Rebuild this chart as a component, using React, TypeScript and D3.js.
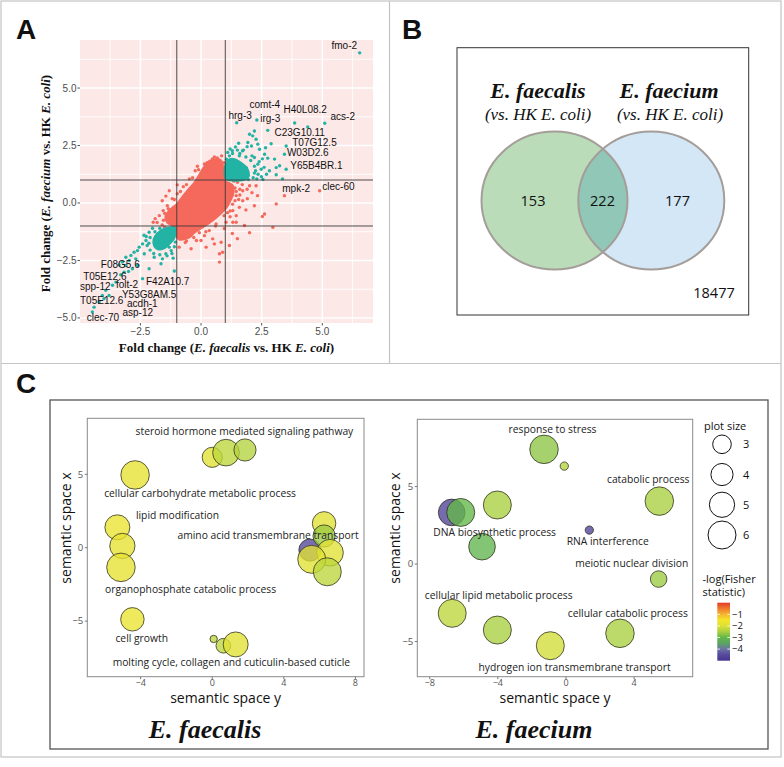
import * as d3 from "d3";

// ---------- Panel A: fold change scatter ----------
// solid, fully over-plotted core of the non-shared genes (outline in fold-change units)
const redCore: [number, number][] = [
  [0.34, 1.83], [0.8, 1.88], [0.92, 1.53], [1.0, 0.97], [1.29, 0.79], [1.33, 0.4],
  [1.21, 0.1], [1.05, -0.2], [0.76, -0.51], [0.47, -0.77], [0.05, -1.07], [-0.28, -1.29],
  [-0.48, -1.5], [-0.9, -1.59], [-1.02, -1.42], [-1.06, -1.07], [-1.39, -0.85], [-1.47, -0.59],
  [-1.23, -0.25], [-1.02, -0.07], [-0.77, 0.27], [-0.57, 0.53], [-0.28, 0.88], [-0.07, 1.23], [0.1, 1.53],
];
const tealCoreUp: [number, number][] = [
  [1.02, 1.04], [1.02, 1.72], [1.18, 1.92], [1.42, 1.9], [1.7, 1.72], [1.92, 1.5], [1.98, 1.22], [1.88, 1.04],
];
const tealCoreDown: [number, number][] = [
  [-1.08, -1.06], [-1.08, -1.5], [-1.25, -1.74], [-1.52, -1.98], [-1.78, -2.02], [-1.94, -1.88],
  [-1.97, -1.6], [-1.82, -1.33], [-1.56, -1.13], [-1.31, -1.06],
];
const redPoints: [number, number][] = [
  [0.14, 1.7], [0.47, 1.92], [0.67, 1.96], [-0.24, 1.4], [-0.48, 1.05], [-0.73, 0.71], [-0.98, 0.4],
  [-1.19, 0.19], [-1.39, -0.12], [-1.56, -0.33], [-1.72, -0.55], [-1.81, -0.85], [-1.97, -0.84],
  [-1.6, 0.1], [-1.31, 0.53], [-0.98, 0.79], [-1.89, -0.68], [-1.3, -0.45], [-1.45, 0.3],
  [-0.9, -1.92], [-0.65, -1.72], [-0.41, -1.99], [-0.19, -1.63], [0.21, -1.92], [0.48, -1.56],
  [0.34, -1.2], [0.55, -1.78], [0.83, -1.71], [0.76, -2.21], [0.76, -2.57], [0.89, -2.14],
  [1.17, -1.85], [1.29, -1.33], [1.45, -0.84], [1.31, -0.84], [1.03, -0.84], [0.62, -0.91],
  [1.58, -0.19], [1.31, -0.33], [1.45, -0.55], [1.72, 0.1], [2.0, 0.75], [2.27, 0.75], [1.72, 0.53],
  [1.45, 0.32], [1.91, 0.19], [2.2, -0.12], [2.62, -0.48], [2.53, -0.59], [2.96, -1.06], [3.1, -0.04],
  [3.44, 0.32], [4.89, 0.53], [1.79, -0.98], [2.0, -1.29], [1.5, -1.55], [0.96, -1.11], [0.14, -1.42],
  [-0.07, -1.29], [0.0, -1.63], [1.09, -0.42], [2.33, 0.32], [1.5, 0.9], [1.7, 0.8], [1.9, 0.6],
  [1.6, 0.6], [1.4, 0.65], [2.1, 0.45], [1.55, 0.15], [1.85, -0.3], [1.2, -0.6],
  [-1.55, -0.75], [-1.6, -0.95], [-1.5, -1.05], [-1.2, -1.2], [-0.6, -1.65], [-0.3, -1.5], [0.2, -1.25],
  [0.6, -1.0], [0.95, -0.55], [1.2, -0.35], [1.4, 0.1], [1.45, 0.5], [1.1, 1.1], [1.0, 1.5], [0.95, 1.75],
  [0.25, 1.75], [-0.1, 1.45], [-0.35, 1.1], [-0.6, 0.8], [-0.85, 0.5], [-1.1, 0.15], [-1.35, -0.25],
  [-1.5, -0.45], [0.55, 2.0], [0.85, 2.05], [-0.15, 1.6], [1.35, 0.95], [1.6, 0.35], [1.3, -0.05],
];
const tealPoints: [number, number][] = [
  [6.54, 6.53], [1.47, 3.49], [2.3, 3.61], [2.75, 3.16], [3.86, 3.48], [4.4, 3.31], [5.1, 3.47],
  [3.51, 2.48], [3.44, 2.12], [3.51, 1.47], [3.1, 1.23], [2.89, 2.58], [2.41, 2.34], [2.62, 2.12],
  [2.75, 1.95], [3.03, 1.91], [3.1, 1.54], [2.2, 3.13], [2.13, 2.92], [2.0, 2.99], [2.27, 2.77],
  [1.93, 2.63], [2.34, 2.56], [2.2, 1.98], [2.34, 1.69], [2.48, 1.47], [1.86, 1.54], [1.71, 2.27],
  [1.58, 2.05], [2.53, 1.92], [2.66, 2.4], [2.08, 2.48], [2.82, 1.4], [3.24, 1.62], [3.36, 1.05],
  [2.49, 1.14], [1.29, 2.27], [1.42, 2.44], [1.17, 2.05], [2.2, 1.3], [2.3, 1.05], [1.95, 1.2],
  [1.1, 2.2], [1.3, 2.15], [1.6, 2.15], [1.85, 2.0], [2.05, 1.85], [2.2, 1.6], [2.25, 1.4], [2.15, 1.1],
  [1.05, 1.9], [1.02, 1.6], [1.02, 1.3], [1.2, 2.35], [1.5, 2.3], [1.75, 2.3], [2.4, 1.8], [2.6, 1.55],
  [2.1, 2.05], [1.9, 2.45], [1.55, 2.6], [2.7, 1.25], [2.55, 1.02], [2.35, 1.25], [1.95, 1.02], [1.7, 1.05],
  [-2.14, -1.27], [-2.27, -1.63], [-2.41, -1.78], [-2.55, -1.92], [-2.62, -2.07], [-2.76, -2.14],
  [-2.34, -2.21], [-2.89, -2.28], [-3.1, -2.36], [-2.96, -2.5], [-2.69, -2.43], [-3.24, -2.57],
  [-3.38, -2.69], [-3.1, -2.72], [-2.62, -2.72], [-2.14, -2.86], [-1.65, -2.64], [-1.93, -2.36],
  [-1.59, -2.43], [-2.83, -2.86], [-2.99, -2.98], [-3.17, -3.01], [-3.31, -3.12], [-2.41, -3.29],
  [-3.51, -3.44], [-3.65, -3.58], [-3.93, -3.8], [-3.79, -4.02], [-4.07, -4.02], [-4.2, -4.31],
  [-4.0, -4.16], [-4.41, -4.53], [-4.48, -4.74], [-1.1, -2.96], [-1.45, -2.21], [-1.31, -1.92],
  [-2.22, -1.85], [-1.72, -1.72], [-1.48, -1.63], [-1.23, -2.07], [-2.26, -1.46],
  [-1.1, -1.9], [-1.2, -2.2], [-1.4, -2.3], [-1.7, -2.25], [-1.95, -2.2], [-2.1, -2.05], [-2.15, -1.75],
  [-2.1, -1.5], [-1.9, -1.25], [-1.7, -1.1], [-1.06, -1.7], [-1.15, -2.4], [-2.0, -1.1], [-2.35, -1.4],
];
const geneNames = [
  "fmo-2", "comt-4", "H40L08.2", "acs-2", "hrg-3", "irg-3", "C23G10.11", "T07G12.5", "W03D2.6",
  "Y65B4BR.1", "mpk-2", "clec-60", "F08G5.6", "T05E12.6", "F42A10.7", "spp-12", "folt-2",
  "Y53G8AM.5", "T05E12.6", "acdh-1", "clec-70", "asp-12",
];
// repelled label anchor (fold-change units)
const geneLabelAt: [number, number][] = [
  [5.38, 6.7], [2.0, 4.12], [3.4, 3.9], [5.34, 3.61], [1.13, 3.64], [2.44, 3.54], [3.03, 2.92],
  [3.76, 2.48], [3.54, 2.05], [3.68, 1.47], [3.35, 0.46], [5.0, 0.56], [-4.13, -2.83], [-4.86, -3.34],
  [-2.27, -3.55], [-4.99, -3.77], [-3.51, -3.68], [-3.26, -4.12], [-4.99, -4.41], [-3.05, -4.52],
  [-4.71, -5.13], [-3.24, -4.93],
];
const aMajor = [-5, -2.5, 0, 2.5, 5];
const aMinor = [-3.75, -1.25, 1.25, 3.75, 6.25];

// ---------- Panel B: Venn ----------
const vennSets = ["E. faecalis", "E. faecium"];
const vennCounts = [153, 222, 177];
const vennOutside = 18477;

// ---------- Panel C: REVIGO semantic space ----------
type Term = { sy: number; sx: number; size: number; logp: number };
const faecalisTerms: Term[] = [
  { sy: 0.0, sx: 6.16, size: 3.4, logp: -1.9 },
  { sy: 0.77, sx: 6.48, size: 5.5, logp: -2.3 },
  { sy: 1.83, sx: 6.66, size: 4.0, logp: -2.4 },
  { sy: -4.31, sx: 4.96, size: 6.2, logp: -1.8 },
  { sy: -5.3, sx: 1.39, size: 4.9, logp: -1.7 },
  { sy: -5.02, sx: 0.12, size: 5.0, logp: -1.8 },
  { sy: -5.1, sx: -1.34, size: 6.2, logp: -1.8 },
  { sy: -4.46, sx: -4.88, size: 4.4, logp: -1.7 },
  { sy: 0.08, sx: -6.22, size: 1.0, logp: -2.3 },
  { sy: 0.62, sx: -6.68, size: 2.1, logp: -2.3 },
  { sy: 1.31, sx: -6.59, size: 4.9, logp: -1.9 },
  { sy: 6.25, sx: 1.66, size: 4.4, logp: -1.9 },
  { sy: 5.46, sx: -0.16, size: 4.0, logp: -4.6 },
  { sy: 6.25, sx: 0.8, size: 4.0, logp: -2.6 },
  { sy: 6.58, sx: -0.34, size: 5.5, logp: -1.9 },
  { sy: 5.56, sx: -0.79, size: 6.0, logp: -1.9 },
  { sy: 6.43, sx: -1.64, size: 6.0, logp: -2.3 },
];
const faecalisLabels = [
  "steroid hormone mediated signaling pathway", "cellular carbohydrate metabolic process",
  "lipid modification", "amino acid transmembrane transport", "organophosphate catabolic process",
  "cell growth", "molting cycle, collagen and cuticulin-based cuticle",
];
const faecalisLabelAt: [number, number][] = [
  [1.8, 7.68], [-0.68, 3.44], [-1.94, 1.96], [3.12, 0.59], [-1.21, -3.07], [-3.94, -6.41], [1.07, -8.06],
];
const faeciumTerms: Term[] = [
  { sy: -1.29, sx: 7.4, size: 6.2, logp: -2.7 },
  { sy: -0.1, sx: 6.32, size: 1.1, logp: -2.4 },
  { sy: 5.48, sx: 4.06, size: 6.2, logp: -2.5 },
  { sy: -4.03, sx: 3.81, size: 6.0, logp: -2.5 },
  { sy: -6.71, sx: 3.33, size: 5.5, logp: -4.7 },
  { sy: -6.18, sx: 3.33, size: 6.0, logp: -3.0 },
  { sy: -4.93, sx: 1.12, size: 5.5, logp: -3.1 },
  { sy: 1.37, sx: 2.19, size: 1.1, logp: -4.7 },
  { sy: 5.44, sx: -0.97, size: 2.5, logp: -2.6 },
  { sy: -6.68, sx: -3.18, size: 6.0, logp: -2.3 },
  { sy: -4.03, sx: -4.26, size: 6.0, logp: -2.5 },
  { sy: -0.92, sx: -5.27, size: 6.0, logp: -2.1 },
  { sy: 3.17, sx: -4.47, size: 6.2, logp: -2.5 },
];
const faeciumLabels = [
  "response to stress", "catabolic process", "DNA biosynthetic process", "RNA interference",
  "meiotic nuclear division", "cellular lipid metabolic process", "cellular catabolic process",
  "hydrogen ion transmembrane transport",
];
const faeciumLabelAt: [number, number][] = [
  [-0.79, 8.43], [4.83, 5.25], [-4.19, 1.81], [2.45, 1.23], [3.86, -0.21], [-3.95, -2.26],
  [3.63, -3.4], [0.5, -6.88],
];
const sizeLegend = [3, 4, 5, 6];
const fisherTicks = [-1, -2, -3, -4];

const RED = "#F4695B";
const TEAL = "#22B3A5";
const SANS = "'Open Sans', sans-serif";
const SERIF = "'Liberation Serif', 'Times New Roman', serif";
const ARIAL = "'Liberation Sans', Arial, sans-serif";

const colorScale = d3
  .scaleLinear<string>()
  .domain([0, -0.5, -1, -1.5, -2, -2.5, -3, -3.5, -4, -4.5, -5])
  .range(["#E4392A", "#EF7A2D", "#F5B52E", "#F4E62C", "#DCE035", "#A9CF40", "#63B749", "#5AA463", "#6D72A4", "#56499C", "#473491"]);
const areaScale = d3.scaleLinear().domain([3, 6]).range([86.5, 196]);
const rOf = (v: number) => Math.sqrt(areaScale(v));

function PanelA() {
  const x = d3.scaleLinear().domain([-4.99, 7.09]).range([80, 373]);
  const y = d3.scaleLinear().domain([-5.22, 7.09]).range([323, 40]);
  const area = d3
    .line<[number, number]>()
    .x((d) => x(d[0]))
    .y((d) => y(d[1]))
    .curve(d3.curveCatmullRomClosed);
  const [x0, x1] = x.range();
  const [y0, y1] = y.range();
  return (
    <g>
      <rect x={x0} y={y1} width={x1 - x0} height={y0 - y1} fill="#FCE8E7" />
      {aMinor.map((v) => (
        <g key={"mn" + v} stroke="#fff" strokeWidth={0.9}>
          <line x1={x(v)} x2={x(v)} y1={y1} y2={y0} />
          <line x1={x0} x2={x1} y1={y(v)} y2={y(v)} />
        </g>
      ))}
      {aMajor.map((v) => (
        <g key={"mj" + v} stroke="#fff" strokeWidth={1.6}>
          {v > -5 && <line x1={x(v)} x2={x(v)} y1={y1} y2={y0} />}
          <line x1={x0} x2={x1} y1={y(v)} y2={y(v)} />
        </g>
      ))}
      <path d={area(redCore)!} fill={RED} stroke={RED} strokeWidth={2} />
      {redPoints.map((d, i) => (
        <circle key={"r" + i} cx={x(d[0])} cy={y(d[1])} r={1.7} fill={RED} />
      ))}
      <path d={area(tealCoreUp)!} fill={TEAL} stroke={TEAL} strokeWidth={1.5} />
      <path d={area(tealCoreDown)!} fill={TEAL} stroke={TEAL} strokeWidth={1.5} />
      {tealPoints.map((d, i) => (
        <circle key={"t" + i} cx={x(d[0])} cy={y(d[1])} r={1.7} fill={TEAL} />
      ))}
      <g stroke="#3a3a3a" strokeWidth={0.9}>
        {[-1, 1].map((v) => (
          <line key={"v" + v} x1={x(v)} x2={x(v)} y1={y1} y2={y0} />
        ))}
        {[-1, 1].map((v) => (
          <line key={"h" + v} x1={x0} x2={x1} y1={y(v)} y2={y(v)} />
        ))}
      </g>
      {geneNames.map((g, i) => (
        <text key={"g" + i} x={x(geneLabelAt[i][0])} y={y(geneLabelAt[i][1])} fontFamily={ARIAL} fontSize={10} fill="#111">
          {g}
        </text>
      ))}
      {[-2.5, 0, 2.5, 5].map((v) => (
        <g key={"xt" + v}>
          <line x1={x(v)} x2={x(v)} y1={y0} y2={y0 + 2.5} stroke="#555" />
          <text x={x(v)} y={335} textAnchor="middle" fontFamily={ARIAL} fontSize={10} fill="#4d4d4d">
            {d3.format(".1f")(v).replace("-", "−")}
          </text>
        </g>
      ))}
      {aMajor.map((v) => (
        <g key={"yt" + v}>
          <line x1={x0 - 2.5} x2={x0} y1={y(v)} y2={y(v)} stroke="#555" />
          <text x={x0 - 3.5} y={y(v) + 3.5} textAnchor="end" fontFamily={ARIAL} fontSize={10} fill="#4d4d4d">
            {d3.format(".1f")(v).replace("-", "−")}
          </text>
        </g>
      ))}
      <text x={(x0 + x1) / 2} y={352} textAnchor="middle" fontFamily={SERIF} fontWeight="bold" fontSize={13} fill="#111">
        Fold change (<tspan fontStyle="italic">E. faecalis</tspan> vs. HK <tspan fontStyle="italic">E. coli</tspan>)
      </text>
      <text transform={`translate(50,${(y0 + y1) / 2 + 2}) rotate(-90)`} textAnchor="middle" fontFamily={SERIF} fontWeight="bold" fontSize={13} fill="#111">
        Fold change (<tspan fontStyle="italic">E. faecium</tspan> vs. HK <tspan fontStyle="italic">E. coli</tspan>)
      </text>
    </g>
  );
}

function PanelB() {
  const cx = d3.scaleOrdinal<string, number>().domain(vennSets).range([554.5, 651.3]);
  const cy = 200.5;
  const rx = 73;
  const ry = 69;
  return (
    <g>
      <rect x={457} y={47.7} width={291.7} height={267.3} fill="#fff" stroke="#333" strokeWidth={1} />
      <defs>
        <clipPath id="vennLeft">
          <ellipse cx={cx(vennSets[0])} cy={cy} rx={rx} ry={ry} />
        </clipPath>
      </defs>
      <ellipse cx={cx(vennSets[0])} cy={cy} rx={rx} ry={ry} fill="#BADCB8" />
      <ellipse cx={cx(vennSets[1])} cy={cy} rx={rx} ry={ry} fill="#D3E7F7" />
      <ellipse cx={cx(vennSets[1])} cy={cy} rx={rx} ry={ry} fill="#90C7B6" clipPath="url(#vennLeft)" />
      {vennSets.map((s) => (
        <ellipse key={s} cx={cx(s)} cy={cy} rx={rx} ry={ry} fill="none" stroke="#A49D99" strokeWidth={2} />
      ))}
      {vennSets.map((s, i) => (
        <g key={"t" + s}>
          <text x={[538, 669][i]} y={98} textAnchor="middle" fontFamily={SERIF} fontWeight="bold" fontStyle="italic" fontSize={22} fill="#111">
            {s}
          </text>
          <text x={[538, 670][i]} y={120} textAnchor="middle" fontFamily={SERIF} fontStyle="italic" fontSize={17} fill="#111">
            (vs. HK E. coli)
          </text>
        </g>
      ))}
      {vennCounts.map((c, i) => (
        <text key={"c" + i} x={[533, 602.5, 677.5][i]} y={cy + 5} textAnchor="middle" fontFamily={SANS} fontSize={14.5} fill="#111">
          {c}
        </text>
      ))}
      <text x={714} y={298} textAnchor="middle" fontFamily={SANS} fontSize={14.5} fill="#111">
        {vennOutside}
      </text>
    </g>
  );
}

function Bubbles({
  terms, labels, labelAt, xDom, xRange, yDom, yRange, xTicks, yTitleX, species, speciesX,
}: {
  terms: Term[]; labels: string[]; labelAt: [number, number][]; xDom: number[]; xRange: number[];
  yDom: number[]; yRange: number[]; xTicks: number[]; yTitleX: number; species: string; speciesX: number;
}) {
  const x = d3.scaleLinear().domain(xDom).range(xRange);
  const y = d3.scaleLinear().domain(yDom).range(yRange);
  const [x0, x1] = xRange;
  const [y0, y1] = yRange;
  const fmt = (v: number) => String(v).replace("-", "−");
  return (
    <g>
      <rect x={x0} y={y1} width={x1 - x0} height={y0 - y1} fill="#fff" stroke="#8a8a8a" strokeWidth={1} />
      {terms.map((t, i) => (
        <circle
          key={i}
          cx={x(t.sy)}
          cy={y(t.sx)}
          r={rOf(t.size)}
          fill={colorScale(t.logp)}
          fillOpacity={0.78}
          stroke="#2b2b1a"
          strokeOpacity={0.85}
          strokeWidth={0.9}
        />
      ))}
      {labels.map((l, i) => (
        <text key={l} x={x(labelAt[i][0])} y={y(labelAt[i][1])} textAnchor="middle" fontFamily={SANS} fontSize={10.3} fill="#222">
          {l}
        </text>
      ))}
      {xTicks.map((v) => (
        <g key={"x" + v}>
          <line x1={x(v)} x2={x(v)} y1={y0} y2={y0 + 2.5} stroke="#777" />
          <text x={x(v)} y={686} textAnchor="middle" fontFamily={SANS} fontSize={9} fill="#555">
            {fmt(v)}
          </text>
        </g>
      ))}
      {[5, 0, -5].map((v) => (
        <g key={"y" + v}>
          <line x1={x0 - 2.5} x2={x0} y1={y(v)} y2={y(v)} stroke="#777" />
          <text x={x0 - 4} y={y(v) + 3.3} textAnchor="end" fontFamily={SANS} fontSize={9.5} fill="#555">
            {fmt(v)}
          </text>
        </g>
      ))}
      <text x={(x0 + x1) / 2} y={702.5} textAnchor="middle" fontFamily={SANS} fontSize={14} fill="#111">
        semantic space y
      </text>
      <text transform={`translate(${yTitleX},528) rotate(-90)`} textAnchor="middle" fontFamily={SANS} fontSize={14} fill="#111">
        semantic space x
      </text>
      <text x={speciesX} y={738} textAnchor="middle" fontFamily={SERIF} fontWeight="bold" fontStyle="italic" fontSize={26} fill="#111">
        {species}
      </text>
    </g>
  );
}

function Legend() {
  const barY = d3.scaleLinear().domain([0, -5]).range([602.7, 660.7]);
  const stops = d3.range(0, 11).map((i) => -i / 2);
  const legendY = d3.scalePoint<number>().domain(sizeLegend).range([444.3, 535]);
  return (
    <g fontFamily={SANS} fill="#111">
      <text x={704} y={430} fontSize={11}>plot size</text>
      {sizeLegend.map((s) => (
        <g key={s}>
          <circle cx={722} cy={legendY(s)} r={rOf(s)} fill="#fff" stroke="#111" strokeWidth={1} />
          <text x={743} y={legendY(s)! + 4} fontSize={11}>{s}</text>
        </g>
      ))}
      <text x={702.5} y={582.7} fontSize={11}>-log(Fisher</text>
      <text x={702.5} y={596} fontSize={11}>statistic)</text>
      <defs>
        <linearGradient id="fisherGrad" x1="0" x2="0" y1="0" y2="1">
          {stops.map((v) => (
            <stop key={v} offset={`${(v / -5) * 100}%`} stopColor={colorScale(v)} />
          ))}
        </linearGradient>
      </defs>
      <rect x={717.3} y={barY(0)} width={12.7} height={barY(-5) - barY(0)} fill="url(#fisherGrad)" />
      {fisherTicks.map((v) => (
        <g key={v}>
          <line x1={717.3} x2={720} y1={barY(v)} y2={barY(v)} stroke="#fff" strokeWidth={0.8} />
          <line x1={727.3} x2={730} y1={barY(v)} y2={barY(v)} stroke="#fff" strokeWidth={0.8} />
          <text x={732} y={barY(v) + 3.3} fontSize={9.5}>{String(v).replace("-", "−")}</text>
        </g>
      ))}
    </g>
  );
}

export default function App() {
  return (
    <svg width={784} height={767} style={{ position: "absolute", left: 0, top: 0, background: "#fff" }}>
      <rect x={0} y={0} width={784} height={767} fill="#fff" />
      <g stroke="#c4c4c4" strokeWidth={1.2} fill="none">
        <rect x={1} y={1} width={780} height={756} />
        <line x1={389.5} x2={389.5} y1={1} y2={363.5} />
        <line x1={1} x2={781} y1={363.5} y2={363.5} />
      </g>
      <rect x={50} y={400} width={718} height={349} fill="none" stroke="#555" strokeWidth={1.3} />
      <g fontFamily={ARIAL} fontWeight="bold" fontSize={28} fill="#111">
        <text x={16} y={39}>A</text>
        <text x={402} y={38.5}>B</text>
        <text x={16} y={393}>C</text>
      </g>
      <PanelA />
      <PanelB />
      <Bubbles
        terms={faecalisTerms}
        labels={faecalisLabels}
        labelAt={faecalisLabelAt}
        xDom={[-6.98, 8.48]}
        xRange={[87.3, 364]}
        yDom={[-8.79, 8.82]}
        yRange={[676.7, 418.3]}
        xTicks={[-4, 0, 4, 8]}
        yTitleX={71}
        species="E. faecalis"
        speciesX={205}
      />
      <Bubbles
        terms={faeciumTerms}
        labels={faeciumLabels}
        labelAt={faeciumLabelAt}
        xDom={[-8.73, 7.44]}
        xRange={[417.3, 692.7]}
        yDom={[-7.27, 9.34]}
        yRange={[676.7, 419.3]}
        xTicks={[-8, -4, 0, 4]}
        yTitleX={400}
        species="E. faecium"
        speciesX={534}
      />
      <Legend />
    </svg>
  );
}
